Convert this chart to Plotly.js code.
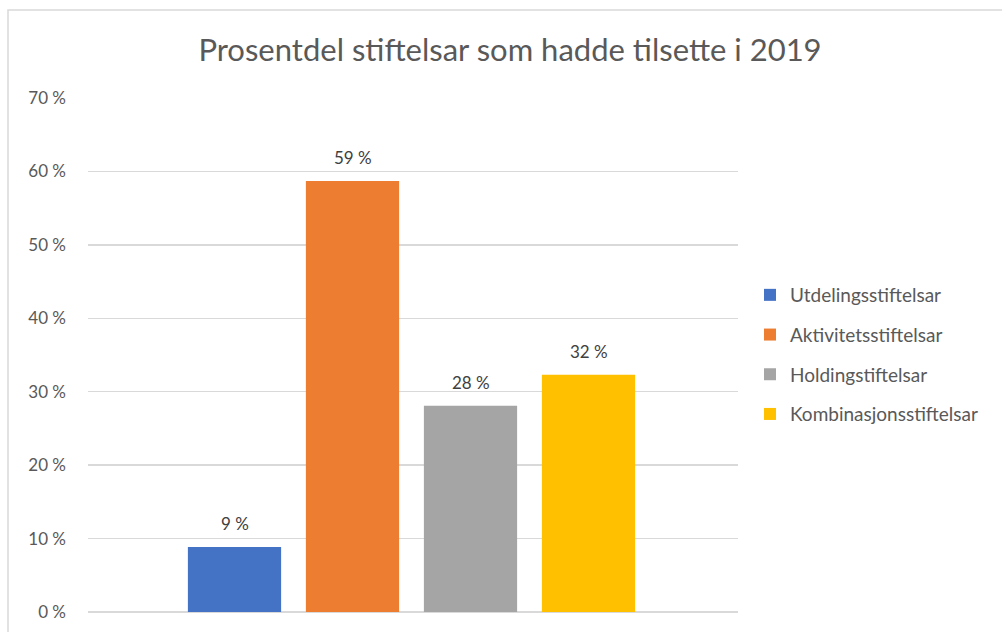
<!DOCTYPE html>
<html>
<head>
<meta charset="utf-8">
<script src="https://cdn.plot.ly/plotly-3.0.1.min.js"></script>
<style>html,body{margin:0;padding:0;background:#fff;}#chart{width:1002px;height:632px;}</style>
</head>
<body>
<div id="chart"></div>
<script>
const categories = ["Utdelingsstiftelsar", "Aktivitetsstiftelsar", "Holdingstiftelsar", "Kombinasjonsstiftelsar"];
const values = [8.85, 58.7, 28.1, 32.3];
const colors = ["#4472C4", "#ED7D31", "#A5A5A5", "#FFC000"];
const yTicks = [0, 10, 20, 30, 40, 50, 60, 70];
const positions = [0, 1, 2, 3];

const FONT = "Lato, 'Open Sans', sans-serif";
const traces = categories.map((name, i) => ({
  type: 'bar',
  name: name,
  x: [positions[i]],
  y: [values[i]],
  width: 0.79,
  marker: {color: colors[i]},
  legendgroup: 'g' + i,
  hoverinfo: 'skip'
}));

const annotations = categories.map((name, i) => ({
  x: positions[i], y: values[i], xref: 'x', yref: 'y',
  text: Math.round(values[i]) + ' %',
  showarrow: false, yanchor: 'bottom', yshift: 11,
  font: {family: FONT, size: 17, color: '#404040'}
}));

const L = 88, R = 264, T = 98, B = 20, W = 1002, H = 632;
const pw = W - L - R, ph = H - T - B;
const slot = 118;
const xStart = 1.5 - (411.5 - L) / slot;

const layout = {
  width: W, height: H,
  margin: {l: L, r: R, t: T, b: B, pad: 0},
  paper_bgcolor: '#fff', plot_bgcolor: '#fff',
  font: {family: FONT, color: '#595959', size: 16},
  title: {text: 'Prosentdel stiftelsar som hadde tilsette i 2019', font: {family: FONT, size: 31, color: '#595959'},
          xref: 'container', x: 510 / W, xanchor: 'center', yref: 'container', y: 1 - 50 / H, yanchor: 'middle'},
  barmode: 'overlay',
  xaxis: {range: [xStart, xStart + pw / slot], showticklabels: false, showgrid: false, zeroline: false, showline: false, ticks: ''},
  yaxis: {range: [0, 70], tickvals: yTicks, ticktext: yTicks.map(v => v + ' %'), showgrid: true, gridcolor: '#D9D9D9', gridwidth: 1.3,
          zeroline: true, zerolinecolor: '#D9D9D9', zerolinewidth: 1.3, showline: false, ticks: '', ticklen: 0,
          ticklabelstandoff: 21,
          tickfont: {family: FONT, size: 17, color: '#595959'}, automargin: false},
  showlegend: true,
  legend: {x: (750 - L) / pw, xanchor: 'left', y: (H - B - 276) / ph, yanchor: 'top', traceorder: 'grouped', tracegroupgap: 12,
           font: {family: FONT, size: 19, color: '#595959'}, bgcolor: 'rgba(0,0,0,0)', itemwidth: 30},
  annotations: annotations,
  shapes: [{type: 'rect', xref: 'paper', yref: 'paper', x0: (8 - L) / pw, x1: (1010 - L) / pw, y0: -(B + 10) / ph, y1: (H - B - 10) / ph,
            line: {color: '#D9D9D9', width: 1.5}, fillcolor: 'rgba(0,0,0,0)', layer: 'below'}]
};

Plotly.newPlot('chart', traces, layout, {displayModeBar: false, staticPlot: true});
</script>
</body>
</html>
